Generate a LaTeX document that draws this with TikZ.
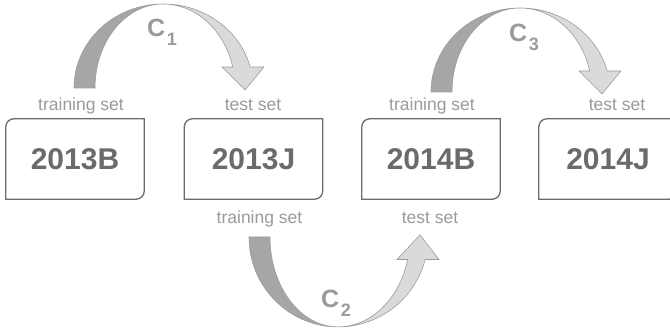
\documentclass[tikz,border=0pt]{standalone}
\usepackage{fontspec}
\setmainfont{Liberation Sans}
\definecolor{boxgray}{HTML}{6B6B6B}
\definecolor{lblgray}{HTML}{9A9A9A}
\definecolor{darkband}{HTML}{A6A6A6}
\definecolor{lightband}{HTML}{DADADA}
\definecolor{bandline}{HTML}{9C9C9C}
\tikzset{
  carrow/.pic={
    \filldraw[fill=darkband, draw=bandline, line width=0.6pt]
      (-89,0) arc[start angle=180, end angle=270, x radius=89, y radius=84]
      arc[start angle=270, end angle=180, x radius=68, y radius=84] -- cycle;
    \filldraw[fill=lightband, draw=bandline, line width=0.6pt]
      (0,-84) arc[start angle=270, end angle=345.5, x radius=90, y radius=84]
      -- (101,-21) -- (82,2) -- (59,-21) -- (69.7,-21)
      arc[start angle=345.5, end angle=270, x radius=72, y radius=84] -- cycle;
  }
}

\begin{document}
\begin{tikzpicture}[
  x=1pt, y=-1pt,
  yr/.style={minimum width=138pt, minimum height=80pt, inner sep=0pt,
             font=\fontsize{30}{32}\selectfont\bfseries, text=boxgray},
  frame/.style={draw=boxgray, line width=1.3pt, rounded corners=8pt, line cap=rect},
  lbl/.style={font=\fontsize{17.5}{18}\selectfont, text=lblgray, anchor=base, inner sep=0pt},
  cl/.style={font=\fontsize{25}{25}\selectfont\bfseries, text=lblgray, anchor=base west, inner sep=0pt}
]
\useasboundingbox (0,0) rectangle (670,334);
\node[yr] (b13) at (75,159)    {2013B};
\node[yr] (j13) at (253.5,159) {2013J};
\node[yr] (b14) at (431,159)   {2014B};
\node[yr] (j14) at (608,159)   {2014J};
\foreach \n in {b13,j13,b14,j14}
  \draw[frame] (\n.north east) -- (\n.north west) -- (\n.south west)
               (\n.south west) -- (\n.south east) -- (\n.north east);
\node[lbl] (tr1) at (81,111)    {training set};
\node[lbl] (te1) at (253,111)   {test set};
\node[lbl] (tr2) at (432,111)   {training set};
\node[lbl] (te2) at (617,111)   {test set};
\node[lbl] (tr3) at (259.5,223) {training set};
\node[lbl] (te3) at (430,223)   {test set};
\pic at (163,88) {carrow};
\pic[yscale=-1.07] at (338,237) {carrow};
\pic at (520,92) {carrow};
\node[cl] (c1) at (147,37)  {C\kern1.5pt\raisebox{-9pt}{\fontsize{18}{18}\selectfont 1}};
\node[cl] (c2) at (321,307) {C\kern1.5pt\raisebox{-9pt}{\fontsize{18}{18}\selectfont 2}};
\node[cl] (c3) at (509,42)  {C\kern1.5pt\raisebox{-9pt}{\fontsize{18}{18}\selectfont 3}};
\end{tikzpicture}
\end{document}
